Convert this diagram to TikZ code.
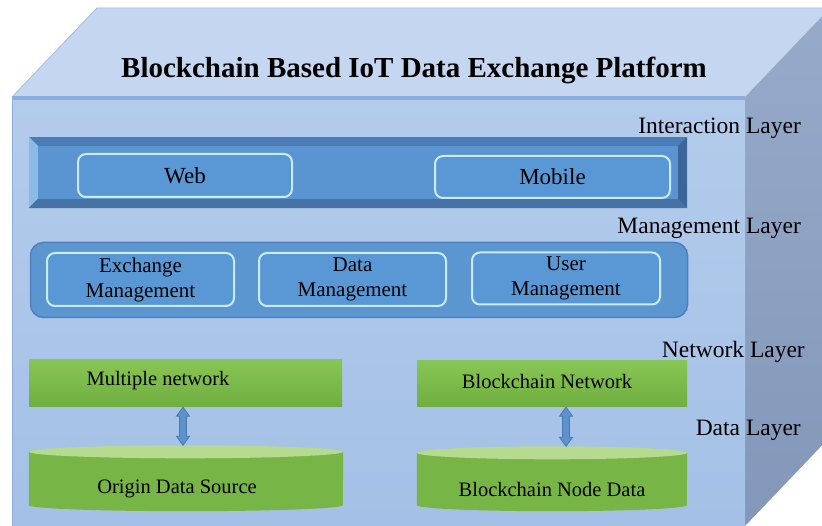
\documentclass[tikz,border=0pt]{standalone}
\usepackage{fontspec}
\setmainfont{Liberation Serif}
\usetikzlibrary{calc}
\definecolor{topface}{HTML}{C4D6F0}
\definecolor{fronttop}{HTML}{B3CCEC}
\definecolor{frontbot}{HTML}{A4C0E6}
\definecolor{frontedge}{HTML}{8FADD8}
\definecolor{sidetop}{HTML}{97AACA}
\definecolor{sidebot}{HTML}{8297B9}
\definecolor{bevtopc}{HTML}{4B7CB5}
\definecolor{bevleftc}{HTML}{8CBAE6}
\definecolor{bevrightc}{HTML}{3B6697}
\definecolor{bevbotc}{HTML}{4672A6}
\definecolor{ifacec}{HTML}{5B95D1}
\definecolor{btnfill}{HTML}{5A98D5}
\definecolor{btnline}{HTML}{C9ECF8}
\definecolor{mgmtfill}{HTML}{5C96D1}
\definecolor{mgmtline}{HTML}{4D80BD}
\definecolor{greentop}{HTML}{88C555}
\definecolor{greenbot}{HTML}{6FAF3F}
\definecolor{cylbody}{HTML}{77B646}
\definecolor{cyltop}{HTML}{B4DB8E}
\definecolor{arrfill}{HTML}{5E92CC}
\definecolor{arrline}{HTML}{4778B0}
\tikzset{
  button/.style={draw=btnline, line width=2pt, fill=btnfill, rounded corners=8pt, inner sep=0pt, font=\fontsize{23}{27}\selectfont},
  mgmtbtn/.style={button, align=center, font=\fontsize{21}{25}\selectfont},
  greenbar/.style={top color=greentop, bottom color=greenbot, draw=none, inner sep=0pt},
  cylbox/.style={draw=none, inner sep=0pt},
  bodytext/.style={font=\fontsize{20.5}{24}\selectfont, inner sep=0pt},
  layerlabel/.style={anchor=east, inner sep=0pt, font=\fontsize{23.5}{28}\selectfont},
  dblarr/.style={fill=arrfill, draw=arrline, line width=0.8pt, line join=miter}
}
\begin{document}
\begin{tikzpicture}[x=1pt,y=-1pt]
\useasboundingbox (0,0) rectangle (822,526);
\clip (0,0) rectangle (822,526);
\fill[white] (0,0) rectangle (822,526);
% top face
\fill[topface] (12,97) -- (97,8) -- (830,8) -- (745,97) -- cycle;
\draw[frontedge!80, line width=0.8pt] (12,97) -- (97,8) -- (830,8);
% side face
\shade[top color=sidetop, bottom color=sidebot] (745,97) -- (830,8) -- (830,437) -- (745,526) -- cycle;
% front face
\shade[top color=fronttop, bottom color=frontbot] (12,97) rectangle (745,526);
\fill[frontedge] (12,96) rectangle (745,100);
\draw[frontedge, line width=0.8pt] (12,97) -- (12,526);
% title
\node[font=\bfseries\fontsize{29}{34}\selectfont, inner sep=0pt] (title) at (414,70) {Blockchain Based IoT Data Exchange Platform};
% layer labels
\node[layerlabel] (lint) at (801,128) {Interaction Layer};
\node[layerlabel] (lmgt) at (801,228) {Management Layer};
\node[layerlabel] (lnet) at (805,352) {Network Layer};
\node[layerlabel] (ldat) at (801,430) {Data Layer};
% interaction bar
\node[fill=bevtopc, minimum width=658pt, minimum height=71pt, inner sep=0pt] (ibar) at (358,172.5) {};
\fill[bevleftc] (ibar.north west) -- ($(ibar.north west)+(9,9)$) -- ($(ibar.south west)+(9,-9)$) -- (ibar.south west) -- cycle;
\fill[bevrightc] (ibar.north east) -- ($(ibar.north east)+(-9,9)$) -- ($(ibar.south east)+(-9,-9)$) -- (ibar.south east) -- cycle;
\fill[bevbotc] (ibar.south west) -- ($(ibar.south west)+(9,-9)$) -- ($(ibar.south east)+(-9,-9)$) -- (ibar.south east) -- cycle;
\fill[ifacec] ($(ibar.north west)+(9,9)$) rectangle ($(ibar.south east)+(-9,-9)$);
\node[button, minimum width=214pt, minimum height=43pt] (web) at (185,175.5) {Web};
\node[button, minimum width=235pt, minimum height=42pt] (mobile) at (552.5,177) {Mobile};
% management bar
\node[fill=mgmtfill, draw=mgmtline, line width=1.5pt, rounded corners=13pt, minimum width=657pt, minimum height=75pt, inner sep=0pt] (mbar) at (359,280) {};
\node[mgmtbtn, minimum width=187pt, minimum height=53pt] (exm) at (140.5,279.5) {Exchange\\Management};
\node[mgmtbtn, minimum width=187pt, minimum height=53pt] (dam) at (352.5,279.5) {Data\\Management};
\node[mgmtbtn, minimum width=188pt, minimum height=52pt] (usm) at (566,278.5) {User\\Management};
% network layer
\node[greenbar, minimum width=313pt, minimum height=47pt] (mn) at (185.5,383.5) {};
\node[bodytext] (mntext) at (158,381) {Multiple network};
\node[greenbar, minimum width=270pt, minimum height=46pt] (bn) at (552,384) {};
\node[bodytext] (bntext) at (547,381) {Blockchain Network};
% data layer cylinders
\node[cylbox, minimum width=314pt, minimum height=53pt] (ods) at (186,478.5) {};
\fill[cylbody] (ods.north west) -- (ods.south west) arc[start angle=180, end angle=360, x radius=157pt, y radius=6pt] -- (ods.north east) -- cycle;
\fill[cyltop] (ods.north) ellipse [x radius=157pt, y radius=6.5pt];
\node[bodytext] (odstext) at (177,489) {Origin Data Source};
\node[cylbox, minimum width=270pt, minimum height=52pt] (bnd) at (552,479) {};
\fill[cylbody] (bnd.north west) -- (bnd.south west) arc[start angle=180, end angle=360, x radius=135pt, y radius=6pt] -- (bnd.north east) -- cycle;
\fill[cyltop] (bnd.north) ellipse [x radius=135pt, y radius=6.5pt];
\node[bodytext] (bndtext) at (552,489) {Blockchain Node Data};
% double arrows
\coordinate (a1t) at ($(mn.south)+(-2.5,0)$);
\coordinate (a1b) at ($(ods.north)+(-3,-6.5)$);
\draw[dblarr] (a1t) -- ++(6.5,9) -- ++(-3,0) -- ($(a1b)+(3.5,-9)$) -- ++(3,0) -- (a1b) -- ++(-6.5,-9) -- ++(3,0) -- ($(a1t)+(-3.5,9)$) -- ++(-3,0) -- cycle;
\coordinate (a2t) at ($(bn.south)+(14,0)$);
\coordinate (a2b) at ($(bnd.north)+(14,-6.5)$);
\draw[dblarr] (a2t) -- ++(6.5,9) -- ++(-3,0) -- ($(a2b)+(3.5,-9)$) -- ++(3,0) -- (a2b) -- ++(-6.5,-9) -- ++(3,0) -- ($(a2t)+(-3.5,9)$) -- ++(-3,0) -- cycle;
\end{tikzpicture}
\end{document}
